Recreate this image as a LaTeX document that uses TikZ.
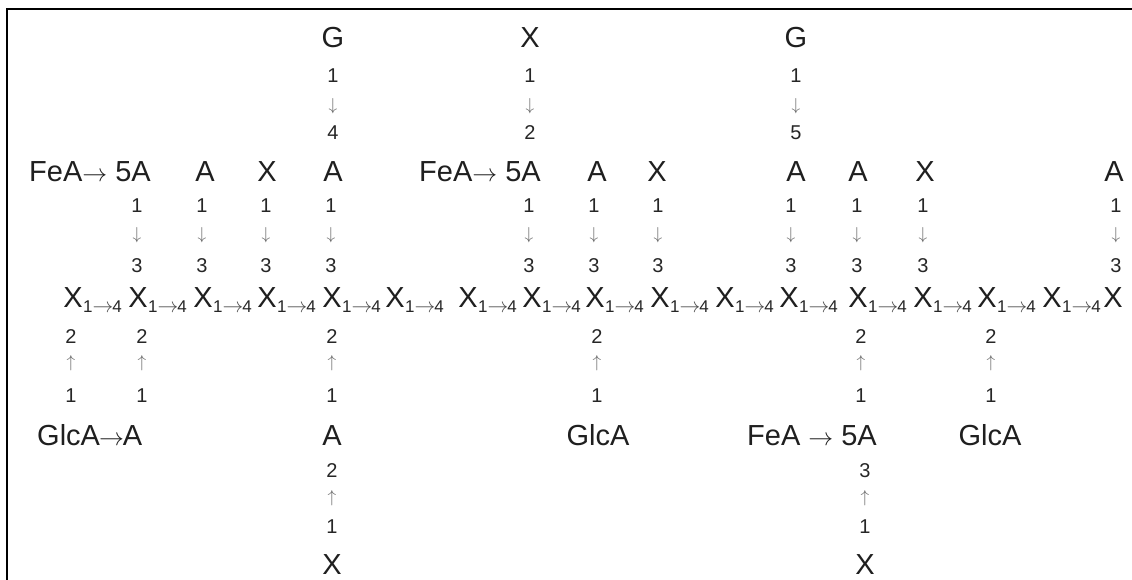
\documentclass[tikz,border=0pt]{standalone}
\usepackage{fontspec}
\setmainfont{Liberation Sans}
\newcommand{\ra}{{\fontsize{28}{28}\selectfont$\rightarrow$}}
\newcommand{\sra}{{\fontsize{21}{21}\selectfont$\rightarrow$}}
\begin{document}
\begin{tikzpicture}[x=1pt,y=-1pt,
  big/.style={font=\fontsize{29}{29}\selectfont, inner sep=0pt, anchor=base, text=black!88},
  num/.style={font=\fontsize{20}{20}\selectfont, inner sep=0pt, anchor=base, text=black!85},
  arr/.style={font=\fontsize{16}{16}\selectfont, inner sep=0pt, text=black!60},
  subs/.style={font=\fontsize{17}{17}\selectfont, inner sep=0pt, anchor=base west, text=black!85},
  frame/.style={line width=2pt, black}]
\useasboundingbox (0,0) rectangle (1132,580);
\draw[frame] (7,580) -- (7,9) -- (1132,9);

% main chain
\foreach \i/\x in {1/73,2/138,3/203,4/267,5/332,6/395,7/468,8/532,9/595,10/660,11/725,12/789,13/858,14/923,15/987,16/1052,17/1113}
  \node[big] (x\i) at (\x,307) {X};
\foreach \i in {1,...,16}
  \node[subs] (s\i) at ([xshift=0pt,yshift=-5pt]x\i.base east) {1\textcolor{black!70}{\sra}\hspace{-1pt}4};

% top links 1 -> 3
\foreach \n/\x in {2/137,3/202,4/266,5/331,8/529,9/594,10/658,12/791,13/857,14/923,17/1116}{
  \node[num] (ta\n) at (\x,213) {1};
  \node[arr] (tb\n) at (\x,235) {$\downarrow$};
  \node[num] (tc\n) at (\x,272) {3};
}

% top substituent row
\node[big, anchor=base east] (fa1) at (151,182) {FeA\ra\ 5A};
\node[big] (a3) at (205,182) {A};
\node[big] (a4) at (267,182) {X};
\node[big] (a5) at (333,182) {A};
\node[big, anchor=base east] (fa8) at (541,182) {FeA\ra\ 5A};
\node[big] (a9) at (597,182) {A};
\node[big] (a10) at (657,182) {X};
\node[big] (a12) at (796,182) {A};
\node[big] (a13) at (858,182) {A};
\node[big] (a14) at (925,182) {X};
\node[big] (a17) at (1114,182) {A};

% second-level top branches
\foreach \n/\x/\top/\d in {5/333/G/4, 8/530/X/2, 12/796/G/5}{
  \node[big] (g\n) at (\x,48) {\top};
  \node[num] (ga\n) at (\x,83) {1};
  \node[arr] (gb\n) at (\x,106) {$\downarrow$};
  \node[num] (gc\n) at (\x,140) {\d};
}

% bottom links 1 -> 2
\foreach \n/\x in {1/71,2/142,5/332,9/597,13/861,15/991}{
  \node[num] (ba\n) at (\x,343) {2};
  \node[arr] (bb\n) at (\x,363) {$\uparrow$};
  \node[num] (bc\n) at (\x,402) {1};
}

% bottom substituent row
\node[big, anchor=base west] (gl1) at (37,445) {GlcA\hspace{-1pt}\ra\hspace{-1pt}A};
\node[big] (b5) at (332,445) {A};
\node[big] (gl9) at (598,445) {GlcA};
\node[big, anchor=base east] (fb13) at (877,445) {FeA \ra\ 5A};
\node[big] (gl15) at (990,445) {GlcA};

% second-level bottom branches
\foreach \n/\x/\d in {5/332/2, 13/865/3}{
  \node[num] (da\n) at (\x,477) {\d};
  \node[arr] (db\n) at (\x,498) {$\uparrow$};
  \node[num] (dc\n) at (\x,533) {1};
  \node[big] (dx\n) at (\x,574) {X};
}
\end{tikzpicture}
\end{document}
